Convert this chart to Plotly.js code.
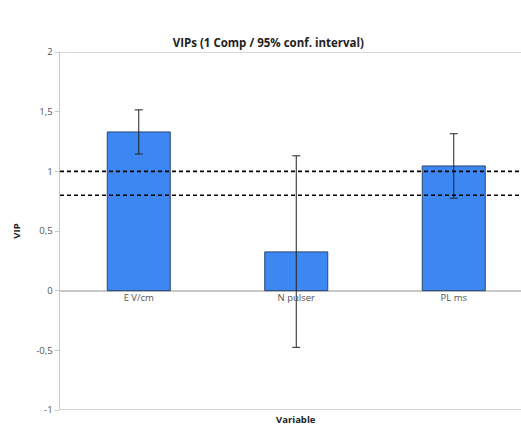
<!DOCTYPE html>
<html>
<head>
<meta charset="utf-8">
<script src="https://cdn.plot.ly/plotly-3.0.1.min.js"></script>
<style>html,body{margin:0;padding:0;background:#fff;}#chart{width:521px;height:425px;}</style>
</head>
<body>
<div id="chart"></div>
<script>
var categories = ['E V/cm', 'N pulser', 'PL ms'];
var vip = [1.33, 0.325, 1.045];
var ciUpper = [1.515, 1.13, 1.315];
var ciLower = [1.145, -0.475, 0.775];
var thresholds = [1, 0.8];
var yTickVals = [-1, -0.5, 0, 0.5, 1, 1.5, 2];
var yTickText = ['-1', '-0,5', '0', '0,5', '1', '1,5', '2'];

var errPlus = vip.map(function (v, i) { return ciUpper[i] - v; });
var errMinus = vip.map(function (v, i) { return v - ciLower[i]; });

var trace = {
  type: 'bar',
  x: [0, 1, 2],
  y: vip,
  width: 0.4,
  marker: { color: '#3d87f2', line: { color: '#2b4670', width: 1 } },
  error_y: { type: 'data', symmetric: false, array: errPlus, arrayminus: errMinus,
             color: '#222', thickness: 1, width: 4 },
  hoverinfo: 'none'
};

var shapes = [];
thresholds.forEach(function (t) {
  shapes.push({ type: 'line', xref: 'paper', yref: 'y', x0: 0, x1: 1, y0: t, y1: t,
                line: { color: '#000', width: 1.6, dash: '4px,3px' } });
});
shapes.push({ type: 'line', xref: 'paper', yref: 'y', x0: 0, x1: 1, y0: 2, y1: 2,
              line: { color: '#c8c8c8', width: 1.5 } });
shapes.push({ type: 'line', xref: 'paper', yref: 'y', x0: 0, x1: 1, y0: -1, y1: -1,
              line: { color: '#c8c8c8', width: 1.5 } });

var layout = {
  width: 521, height: 425,
  margin: { l: 60, r: 0, t: 52, b: 15 },
  paper_bgcolor: '#fff', plot_bgcolor: '#fff',
  font: { family: 'Open Sans, Liberation Sans, sans-serif', color: '#444', size: 9 },
  title: { text: '<b>VIPs (1 Comp / 95% conf. interval)</b>', xref: 'container', x: 0.515,
           y: 0.9, yanchor: 'middle', font: { size: 11.5, color: '#222' } },
  showlegend: false,
  xaxis: {
    range: [-0.5, 2.427],
    tickvals: [0, 1, 2], ticktext: categories,
    anchor: 'free', position: 1 / 3,
    showline: false, showgrid: false, zeroline: false, ticks: '',
    tickfont: { size: 9.5, color: '#555' }, fixedrange: true
  },
  yaxis: {
    range: [-1, 2],
    tickvals: yTickVals, ticktext: yTickText,
    showgrid: false, zeroline: true, zerolinecolor: '#c8c8c8', zerolinewidth: 2,
    showline: true, linecolor: '#c8c8c8', linewidth: 1.5,
    ticks: 'outside', ticklen: 4, tickcolor: '#c8c8c8',
    tickfont: { size: 9.5, color: '#555' },
    title: { text: '<b>VIP</b>', standoff: 14, font: { size: 9.5, color: '#222' } },
    fixedrange: true
  },
  shapes: shapes,
  annotations: [{
    text: '<b>Variable</b>', xref: 'x', yref: 'paper', x: 1, y: 0, yshift: -9,
    yanchor: 'middle', showarrow: false, font: { size: 9.5, color: '#222' }
  }]
};

Plotly.newPlot('chart', [trace], layout, { displayModeBar: false, staticPlot: true });
</script>
</body>
</html>
